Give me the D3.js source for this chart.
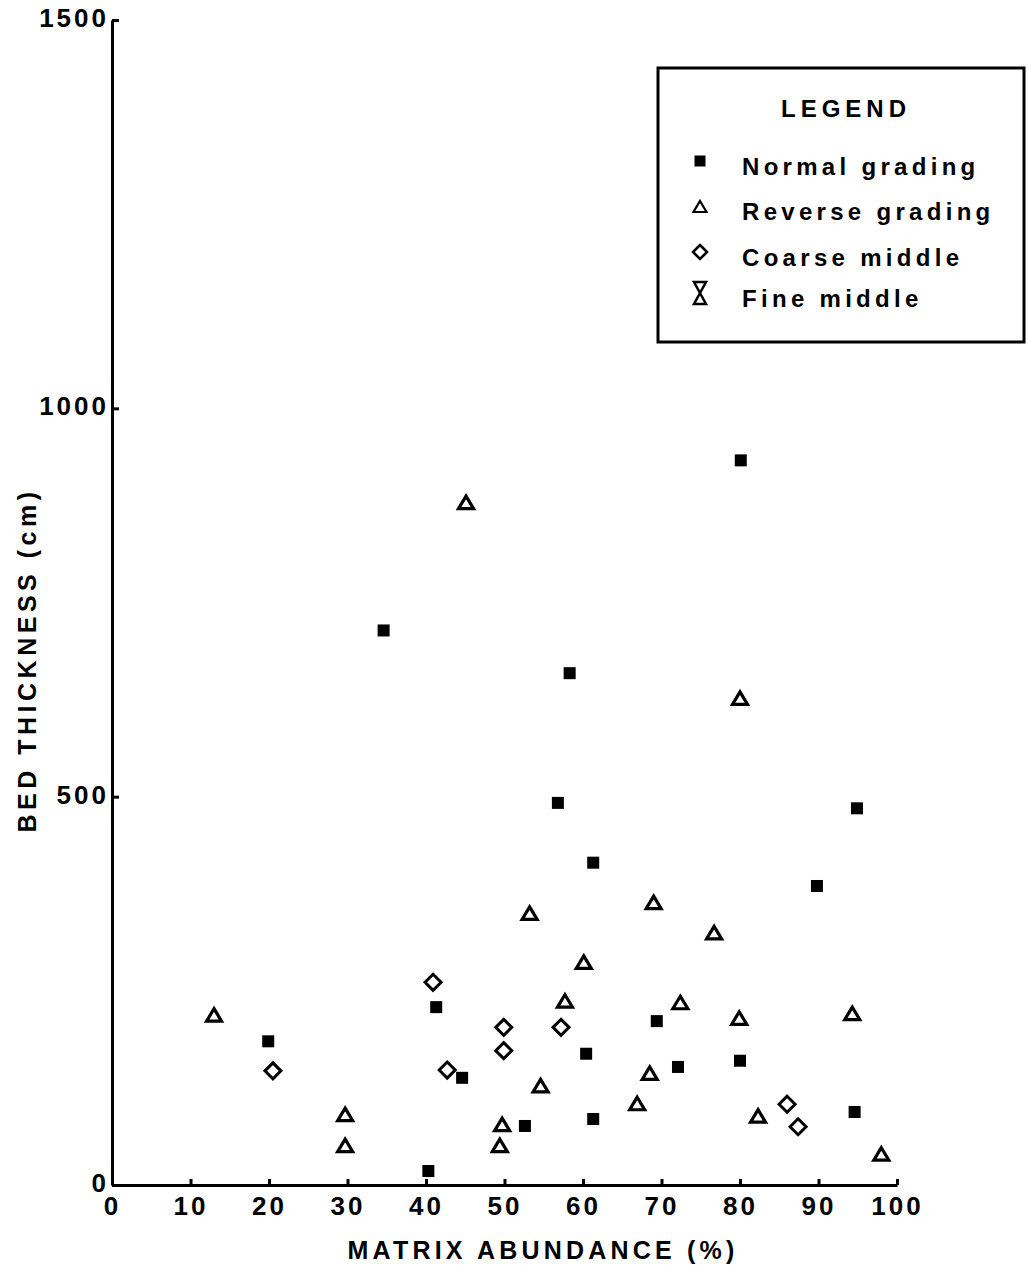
<!DOCTYPE html>
<html>
<head>
<meta charset="utf-8">
<script src="https://cdn.jsdelivr.net/npm/d3@7"></script>
<style>
  body { margin: 0; background: #fff; }
  text { font-family: "Liberation Sans", Arial, sans-serif; font-weight: bold; fill: #000; }
</style>
</head>
<body>
<script>
// matrix abundance (%) vs bed thickness (cm)
var normalX = [19.9, 34.6, 40.3, 41.3, 44.6, 52.6, 56.8, 58.3, 60.4, 61.3, 61.3, 69.4, 72.1, 80.1, 80.0, 89.8, 94.9, 94.6];
var normalY = [185, 714, 18, 229, 138, 76, 492, 659, 169, 415, 85, 211, 152, 933, 160, 385, 485, 94];

var reverseX = [13.0, 29.7, 29.7, 45.1, 49.7, 49.4, 53.2, 54.6, 57.7, 60.1, 66.9, 68.5, 69.0, 72.4, 76.7, 80.0, 79.9, 82.3, 94.3, 98.0];
var reverseY = [218, 90, 50, 878, 77, 50, 349, 127, 236, 286, 104, 143, 363, 234, 324, 626, 214, 88, 220, 39];

var coarseX = [20.5, 40.9, 42.7, 49.9, 49.9, 57.2, 86.0, 87.4];
var coarseY = [147, 261, 148, 203, 173, 203, 104, 75];

var fineX = [];
var fineY = [];

var xTicks = [0, 10, 20, 30, 40, 50, 60, 70, 80, 90, 100];
var yTicks = [0, 500, 1000, 1500];
var legendLabels = ["Normal grading", "Reverse grading", "Coarse middle", "Fine middle"];

var width = 1028, height = 1270;

var svg = d3.select("body").append("svg")
    .attr("width", width)
    .attr("height", height);

var x = d3.scaleLinear().domain([0, 100]).range([112, 897]);
var y = d3.scaleLinear().domain([0, 1500]).range([1185, 20]);

var xAxis = d3.axisBottom(x)
    .tickValues(xTicks)
    .tickFormat(d3.format("d"))
    .tickSize(-6)
    .tickSizeOuter(0)
    .tickPadding(12);

var yAxis = d3.axisLeft(y)
    .tickValues(yTicks)
    .tickFormat(d3.format("d"))
    .tickSize(-7)
    .tickSizeOuter(0)
    .tickPadding(3);

var gx = svg.append("g")
    .attr("transform", "translate(0," + y(0) + ")")
    .call(xAxis);

var gy = svg.append("g")
    .attr("transform", "translate(" + x(0) + ",0)")
    .call(yAxis);

[gx, gy].forEach(function(g) {
  g.select(".domain").attr("stroke", "#000").attr("stroke-width", 3);
  g.selectAll(".tick line").attr("stroke", "#000").attr("stroke-width", 3);
  g.selectAll(".tick text")
    .style("font-family", "'Liberation Sans', Arial, sans-serif")
    .style("font-weight", "bold")
    .style("font-size", "26px")
    .style("letter-spacing", "3px")
    .attr("fill", "#000");
});
gy.selectAll(".tick text").attr("dy", "0.25em");

// axis titles
svg.append("text")
    .attr("x", 543)
    .attr("y", 1259)
    .attr("text-anchor", "middle")
    .style("font-size", "25px")
    .style("letter-spacing", "4.2px")
    .text("MATRIX ABUNDANCE (%)");

svg.append("text")
    .attr("transform", "translate(36,660) rotate(-90)")
    .attr("text-anchor", "middle")
    .style("font-size", "25px")
    .style("letter-spacing", "4.5px")
    .text("BED THICKNESS (cm)");

// marker drawers
function square(g, cx, cy) {
  g.append("rect")
    .attr("x", cx - 6).attr("y", cy - 6)
    .attr("width", 12).attr("height", 12)
    .attr("fill", "#000");
}
function triangle(g, cx, cy) {
  g.append("path")
    .attr("d", "M" + cx + "," + (cy - 7) + "L" + (cx + 7.5) + "," + (cy + 5.5) + "L" + (cx - 7.5) + "," + (cy + 5.5) + "Z")
    .attr("fill", "none").attr("stroke", "#000").attr("stroke-width", 3.2)
    .attr("stroke-linejoin", "miter");
}
function diamond(g, cx, cy) {
  g.append("path")
    .attr("d", "M" + cx + "," + (cy - 8) + "L" + (cx + 8) + "," + cy + "L" + cx + "," + (cy + 8) + "L" + (cx - 8) + "," + cy + "Z")
    .attr("fill", "none").attr("stroke", "#000").attr("stroke-width", 3);
}
function hourglass(g, cx, cy) {
  g.append("path")
    .attr("d", "M" + (cx - 6) + "," + (cy - 11) + "L" + (cx + 6) + "," + (cy - 11) + "L" + (cx - 6) + "," + (cy + 11) + "L" + (cx + 6) + "," + (cy + 11) + "Z")
    .attr("fill", "none").attr("stroke", "#000").attr("stroke-width", 2.5);
}

var pts = svg.append("g");
normalX.forEach(function(v, i) { square(pts, x(v), y(normalY[i])); });
reverseX.forEach(function(v, i) { triangle(pts, x(v), y(reverseY[i])); });
coarseX.forEach(function(v, i) { diamond(pts, x(v), y(coarseY[i])); });
fineX.forEach(function(v, i) { hourglass(pts, x(v), y(fineY[i])); });

// legend
var lg = svg.append("g");
lg.append("rect")
    .attr("x", 658).attr("y", 68)
    .attr("width", 366).attr("height", 274)
    .attr("fill", "none").attr("stroke", "#000").attr("stroke-width", 3);

lg.append("text")
    .attr("x", 846).attr("y", 117)
    .attr("text-anchor", "middle")
    .style("font-size", "24px")
    .style("letter-spacing", "5px")
    .text("LEGEND");

var rowY = [166, 211, 257, 298];
var markY = [161, 207, 252, 293];
var drawers = [
  function(g, cx, cy) { g.append("rect").attr("x", cx - 5.5).attr("y", cy - 5.5).attr("width", 11).attr("height", 11).attr("fill", "#000"); },
  function(g, cx, cy) { g.append("path").attr("d", "M" + cx + "," + (cy - 6) + "L" + (cx + 6.5) + "," + (cy + 5) + "L" + (cx - 6.5) + "," + (cy + 5) + "Z").attr("fill", "none").attr("stroke", "#000").attr("stroke-width", 2.2); },
  function(g, cx, cy) { g.append("path").attr("d", "M" + cx + "," + (cy - 7) + "L" + (cx + 7) + "," + cy + "L" + cx + "," + (cy + 7) + "L" + (cx - 7) + "," + cy + "Z").attr("fill", "none").attr("stroke", "#000").attr("stroke-width", 2.6); },
  hourglass
];
legendLabels.forEach(function(lab, i) {
  drawers[i](lg, 700, markY[i]);
  lg.append("text")
    .attr("x", 742).attr("y", rowY[i] + 9)
    .style("font-size", "24px")
    .style("letter-spacing", "4.3px")
    .text(lab);
});
</script>
</body>
</html>
